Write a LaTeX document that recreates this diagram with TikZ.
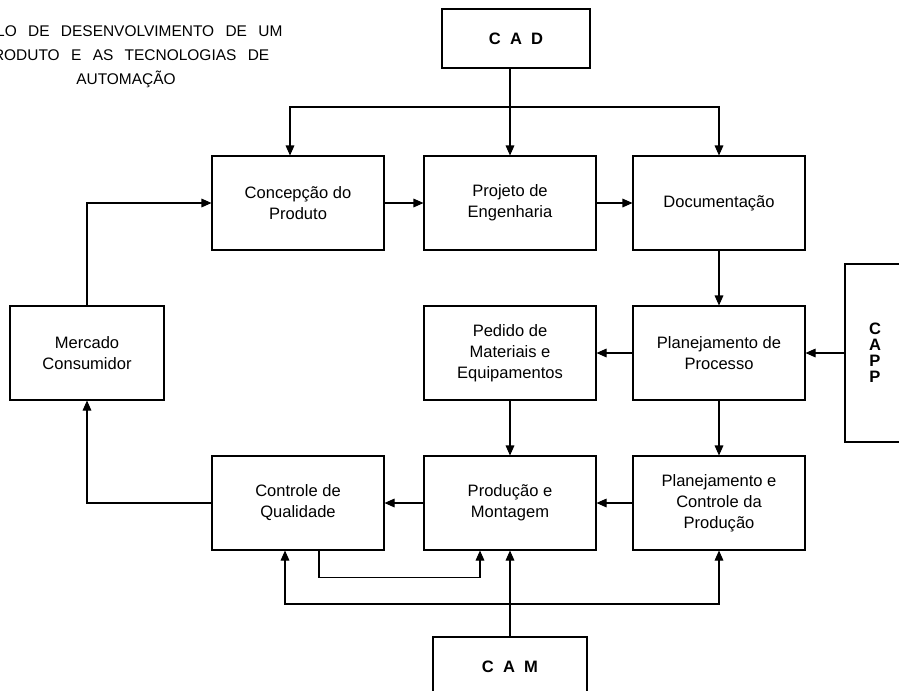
\documentclass[tikz,border=0pt]{standalone}
\usepackage{fontspec}
\setmainfont{Liberation Sans}
\usetikzlibrary{arrows.meta}

\begin{document}
\begin{tikzpicture}[x=0.75pt,y=-0.75pt,
    box/.style={draw,line width=0.8pt,minimum width=129pt,minimum height=70.5pt,inner sep=0pt,align=center,font=\fontsize{12.4}{15.75}\selectfont},
    tagbox/.style={draw,line width=0.8pt,inner sep=0pt,align=center,font=\fontsize{12.4}{12}\selectfont\bfseries},
    arrow/.style={-{Triangle[length=7.5pt,width=6.5pt]},line width=0.8pt}]
            \clip (0,0) rectangle (899,690);
            \node (title) at (126,57) [align=center,font={\fontsize{11.6}{18}\selectfont\spaceskip=8.5pt\relax}] {CICLO DE DESENVOLVIMENTO DE UM\\PRODUTO E AS TECNOLOGIAS DE\\AUTOMAÇÃO};
            \node (cad) at (516,38.5) [tagbox,minimum width=111pt,minimum height=44.25pt] {C~~A~~D};
            \node (concepcao) at (298,203) [box] {Concepção do\\Produto};
            \node (projeto) at (510,203) [box] {Projeto de\\Engenharia};
            \node (documentacao) at (719,203) [box] {Documentação};
            \node (mercado) at (87,353) [box,minimum width=115.5pt] {Mercado\\Consumidor};
            \node (pedido) at (510,353) [box] {Pedido de\\Materiais e\\Equipamentos};
            \node (processo) at (719,353) [box] {Planejamento de\\Processo};
            \node (capp) at (875,353) [tagbox,minimum width=45pt,minimum height=133.5pt] {C\\A\\P\\P};
            \node (controle) at (298,503) [box] {Controle de\\Qualidade};
            \node (producao) at (510,503) [box] {Produção e\\Montagem};
            \node (pcp) at (719,503) [box] {Planejamento e\\Controle da\\Produção};
            \node (cam) at (510,666.5) [tagbox,minimum width=115.5pt,minimum height=44.25pt] {C~~A~~M};
            \coordinate (cadbus) at (510,107);
            \coordinate (cambus) at (510,604);
            % CAD
            \draw[arrow] (cad.south -| projeto.north) -- (projeto.north);
            \draw[arrow] (cadbus) -| ([xshift=-6pt]concepcao.north);
            \draw[arrow] (cadbus) -| (documentacao.north);
            % fluxo principal
            \draw[arrow] (concepcao) -- (projeto);
            \draw[arrow] (projeto) -- (documentacao);
            \draw[arrow] (documentacao) -- (processo);
            \draw[arrow] (capp) -- (processo);
            \draw[arrow] (processo) -- (pedido);
            \draw[arrow] (pedido) -- (producao);
            \draw[arrow] (processo) -- (pcp);
            \draw[arrow] (pcp) -- (producao);
            \draw[arrow] (producao) -- (controle);
            \draw[arrow] (controle.west) -| (mercado.south);
            \draw[arrow] (mercado.north) |- (concepcao.west);
            \draw[arrow] ([xshift=15.75pt]controle.south) -- ++(0,27) -| ([xshift=-22.5pt]producao.south);
            % CAM
            \draw[arrow] (cam) -- (producao);
            \draw[arrow] (cambus) -| ([xshift=-9.75pt]controle.south);
            \draw[arrow] (cambus) -| (pcp.south);
        \end{tikzpicture}
\end{document}
